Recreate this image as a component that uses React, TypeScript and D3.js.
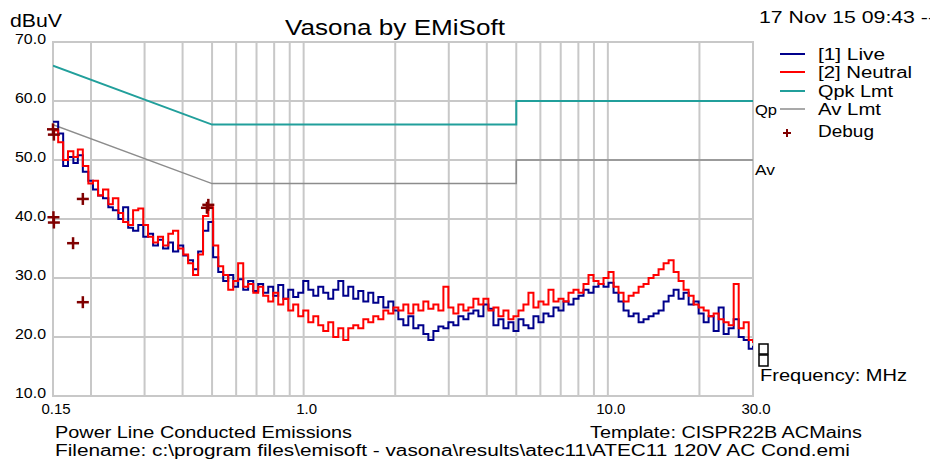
import React from "react";
import * as d3 from "d3";

// sweep frequencies (MHz) shared by both traces
const freqs = [
  0.150, 0.156, 0.162, 0.168, 0.175, 0.181, 0.188, 0.196, 0.203, 0.211,
  0.219, 0.228, 0.236, 0.246, 0.255, 0.265, 0.275, 0.286, 0.297, 0.308,
  0.320, 0.332, 0.345, 0.359, 0.372, 0.387, 0.402, 0.417, 0.433, 0.450,
  0.467, 0.486, 0.504, 0.524, 0.544, 0.565, 0.587, 0.609, 0.633, 0.657,
  0.683, 0.709, 0.736, 0.765, 0.794, 0.825, 0.857, 0.890, 0.924, 0.960,
  0.997, 1.036, 1.076, 1.117, 1.160, 1.205, 1.251, 1.300, 1.350, 1.402,
  1.456, 1.512, 1.571, 1.631, 1.694, 1.760, 1.828, 1.898, 1.972, 2.048,
  2.127, 2.209, 2.294, 2.383, 2.475, 2.570, 2.670, 2.773, 2.880, 2.991,
  3.106, 3.226, 3.351, 3.480, 3.614, 3.754, 3.899, 4.049, 4.206, 4.368,
  4.537, 4.712, 4.894, 5.083, 5.279, 5.483, 5.694, 5.914, 6.143, 6.380,
  6.626, 6.882, 7.148, 7.424, 7.710, 8.008, 8.317, 8.638, 8.971, 9.318,
  9.677, 10.05, 10.44, 10.84, 11.26, 11.70, 12.15, 12.62, 13.10, 13.61,
  14.13, 14.68, 15.25, 15.84, 16.45, 17.08, 17.74, 18.43, 19.14, 19.88,
  20.65, 21.44, 22.27, 23.13, 24.02, 24.95, 25.92, 26.92, 27.96, 29.04,
  30.0,
];

// [1] Live, dBuV
const live = [
  56.5, 54.5, 49.0, 50.5, 49.5, 50.8, 48.0, 46.5, 45.0, 44.0,
  43.5, 42.0, 41.5, 40.0, 42.0, 38.5, 38.0, 39.0, 37.0, 37.5,
  35.5, 36.5, 35.0, 36.0, 34.5, 35.5, 33.8, 33.0, 31.5, 34.5,
  38.0, 39.5, 33.5, 31.0, 29.5, 30.5, 28.5, 29.8, 28.0, 29.5,
  27.8, 29.0, 27.5, 28.5, 27.0, 28.8, 26.5, 28.0, 26.8, 27.5,
  29.5, 28.0, 27.0, 28.5, 27.5, 26.5, 28.0, 29.5, 27.0, 28.5,
  26.5, 27.8, 26.0, 27.5, 25.8, 26.8, 25.0, 26.0, 24.5, 23.0,
  22.0, 23.5, 21.5, 22.0, 20.5, 19.5, 21.0, 21.8, 21.5, 22.5,
  22.0, 23.5, 23.0, 24.0, 24.5, 23.5, 25.5, 24.8, 22.0, 23.0,
  21.5, 22.5, 21.0, 23.0, 22.0, 21.5, 23.5, 22.5, 24.0, 23.5,
  25.0, 24.5, 26.0, 25.5, 26.5, 27.0, 28.0, 27.5, 28.5, 29.0,
  28.5, 29.2, 27.5, 26.0, 24.5, 23.5, 24.0, 22.5, 23.0, 23.5,
  24.0, 24.5, 26.0, 27.0, 28.0, 26.5, 27.5, 25.5, 26.0, 24.0,
  22.5, 23.5, 21.0, 25.0, 20.5, 21.5, 23.0, 20.0, 19.5, 18.0,
  18.5,
];

// [2] Neutral, dBuV
const neutral = [
  55.0, 53.0, 50.0, 51.5, 50.5, 51.8, 49.0, 46.0, 46.5, 44.0,
  45.0, 42.5, 43.5, 41.0, 39.5, 39.0, 41.5, 41.8, 39.0, 37.0,
  36.0, 37.0, 35.5, 37.5, 38.0, 35.0, 34.0, 32.5, 30.5, 34.0,
  40.5, 42.0, 35.5, 32.0, 30.5, 28.0, 29.5, 32.5, 28.5, 29.0,
  27.5, 28.5, 27.0, 26.0, 27.5, 25.5, 26.5, 24.5, 25.5, 23.5,
  24.5, 22.5, 23.5, 22.0, 21.0, 22.5, 20.0, 21.5, 19.5, 21.5,
  22.0, 21.5, 23.0, 22.5, 23.5, 23.0, 24.5, 24.0, 25.0, 24.5,
  25.5, 24.0, 25.5, 24.5, 26.0, 24.8, 25.5, 24.5, 28.5, 25.0,
  24.0, 25.5, 24.5, 25.0, 26.5, 25.5, 26.5, 24.5, 25.0, 23.5,
  24.5, 23.0, 23.5, 24.5, 25.5, 27.5, 25.0, 26.0, 25.5, 28.0,
  26.0, 26.5, 26.0, 27.5, 28.0, 27.5, 29.0, 30.5, 29.5, 29.0,
  30.0, 31.0, 28.5, 27.5, 26.0, 27.0, 27.5, 28.5, 29.0, 30.0,
  30.5, 31.5, 32.5, 33.0, 31.0, 29.5, 28.0, 27.0, 25.5, 25.0,
  24.5, 23.5, 24.0, 23.0, 22.5, 22.0, 29.0, 21.5, 22.5, 19.5,
  19.0,
];

// CISPR 22 class B limits
const limitFreqs = [0.15, 0.5, 5, 5, 30];
const qpkLimit = [66, 56, 56, 60, 60];
const avLimit = [56, 46, 46, 50, 50];

// debug markers
const debugFreqs = [0.150, 0.151, 0.1505, 0.151, 0.1746, 0.188, 0.188, 0.481, 0.486];
const debugLevels = [55.2, 54.3, 40.3, 39.4, 35.9, 43.4, 25.9, 41.9, 42.4];

const xTickValues = [0.15, 1, 10, 30];
const xTickLabels = ["0.15", "1.0", "10.0", "30.0"];

const legendNames = ["[1] Live", "[2] Neutral", "Qpk Lmt", "Av Lmt", "Debug"];
const legendWidths = [67, 94, 75, 63, 56];

const FONT = "'Liberation Sans', Arial, sans-serif";
const GRID = "#c8c8c8";
const BLUE = "#00008b";
const RED = "#ff0000";
const TEAL = "#219f9b";
const GREY = "#8c8c8c";
const DEBUG = "#800000";

export default function App() {
  const W = 930, H = 463;
  const L = 53, R = 753, T = 42, B = 396;

  const x = d3.scaleLog().domain([0.15, 30]).range([L, R]);
  const y = d3.scaleLinear().domain([10, 70]).range([B, T]);

  const trace = d3.line<number>()
    .x((_, i) => x(freqs[i]))
    .y((d) => y(d))
    .curve(d3.curveStepAfter);

  const limit = d3.line<number>()
    .x((_, i) => x(limitFreqs[i]))
    .y((d) => y(d));

  const vGrid = x.ticks();
  const hGrid = y.ticks(6);

  const legendY = [54, 72, 91, 109, 131];

  return (
    <div style={{ position: "fixed", left: 0, top: 0 }}>
      <svg width={W} height={H} style={{ display: "block", background: "#fff" }} fontFamily={FONT}>
        <defs>
          <clipPath id="plot">
            <rect x={L} y={T} width={R - L} height={B - T} />
          </clipPath>
        </defs>

        {/* grid */}
        {vGrid.map((f) => (
          <line key={"v" + f} x1={x(f)} x2={x(f)} y1={T} y2={B} stroke={GRID} strokeWidth={2} />
        ))}
        {hGrid.map((v) => (
          <line key={"h" + v} x1={L} x2={R} y1={y(v)} y2={y(v)} stroke={GRID} strokeWidth={2} />
        ))}
        <rect x={L} y={T} width={R - L} height={B - T} fill="none" stroke={GRID} strokeWidth={2} />

        {/* y labels */}
        {hGrid.map((v) => (
          <text key={"yl" + v} x={46} y={y(v) + 2} textAnchor="end" fontSize={15} fill="#000"
            textLength={31} lengthAdjust="spacingAndGlyphs">
            {v.toFixed(1)}
          </text>
        ))}
        {/* x labels */}
        {xTickValues.map((f, i) => (
          <text key={"xl" + f} x={x(f) + 3} y={414} textAnchor="middle" fontSize={15} fill="#000">
            {xTickLabels[i]}
          </text>
        ))}

        <g clipPath="url(#plot)">
          <path d={limit(qpkLimit) || ""} fill="none" stroke={TEAL} strokeWidth={2} />
          <path d={limit(avLimit) || ""} fill="none" stroke={GREY} strokeWidth={1.5} />
          <path d={trace(live) || ""} fill="none" stroke={BLUE} strokeWidth={2} />
          <path d={trace(neutral) || ""} fill="none" stroke={RED} strokeWidth={2} />
        </g>

        {/* debug markers */}
        {debugFreqs.map((f, i) => {
          const cx = x(f), cy = y(debugLevels[i]);
          return (
            <g key={"d" + i} stroke={DEBUG} strokeWidth={2.5}>
              <line x1={cx - 6} x2={cx + 6} y1={cy} y2={cy} />
              <line x1={cx} x2={cx} y1={cy - 6} y2={cy + 6} />
            </g>
          );
        })}

        {/* limit end labels */}
        <text x={755} y={y(60) + 14} fontSize={14} fill="#000" textLength={22} lengthAdjust="spacingAndGlyphs">Qp</text>
        <text x={755} y={y(50) + 15} fontSize={14} fill="#000" textLength={20} lengthAdjust="spacingAndGlyphs">Av</text>

        {/* trace end marker boxes */}
        <rect x={759} y={344} width={9} height={10} fill="#fff" stroke="#000" strokeWidth={1.5} />
        <rect x={759} y={355} width={9} height={11} fill="#fff" stroke="#000" strokeWidth={1.5} />

        {/* titles */}
        <text x={285} y={35} fontSize={22} fill="#000" textLength={220} lengthAdjust="spacingAndGlyphs">Vasona by EMiSoft</text>
        <text x={10} y={27} fontSize={18} fill="#000" textLength={52} lengthAdjust="spacingAndGlyphs">dBuV</text>
        <text x={759} y={23} fontSize={16} fill="#000" textLength={176} lengthAdjust="spacingAndGlyphs">17 Nov 15 09:43 --</text>
        <text x={760} y={381} fontSize={16} fill="#000" textLength={147} lengthAdjust="spacingAndGlyphs">Frequency: MHz</text>

        {/* legend */}
        {legendNames.map((name, i) => (
          <g key={name}>
            {i < 4 ? (
              <line x1={780} x2={805} y1={legendY[i]} y2={legendY[i]}
                stroke={[BLUE, RED, TEAL, GREY][i]} strokeWidth={i === 3 ? 1.5 : 2} />
            ) : (
              <g stroke={DEBUG} strokeWidth={2}>
                <line x1={783} x2={791} y1={legendY[i] + 2} y2={legendY[i] + 2} />
                <line x1={787} x2={787} y1={legendY[i] - 2} y2={legendY[i] + 6} />
              </g>
            )}
            <text x={818} y={legendY[i] + 6} fontSize={16} fill="#000"
              textLength={legendWidths[i]} lengthAdjust="spacingAndGlyphs">{name}</text>
          </g>
        ))}

        {/* footer */}
        <text x={55} y={438} fontSize={16} fill="#000" textLength={297} lengthAdjust="spacingAndGlyphs">Power Line Conducted Emissions</text>
        <text x={590} y={438} fontSize={16} fill="#000" textLength={272} lengthAdjust="spacingAndGlyphs">Template: CISPR22B ACMains</text>
        <text x={55} y={456} fontSize={16} fill="#000" textLength={795} lengthAdjust="spacingAndGlyphs">
          {"Filename: c:\\program files\\emisoft - vasona\\results\\atec11\\ATEC11 120V AC Cond.emi"}
        </text>
      </svg>
    </div>
  );
}
